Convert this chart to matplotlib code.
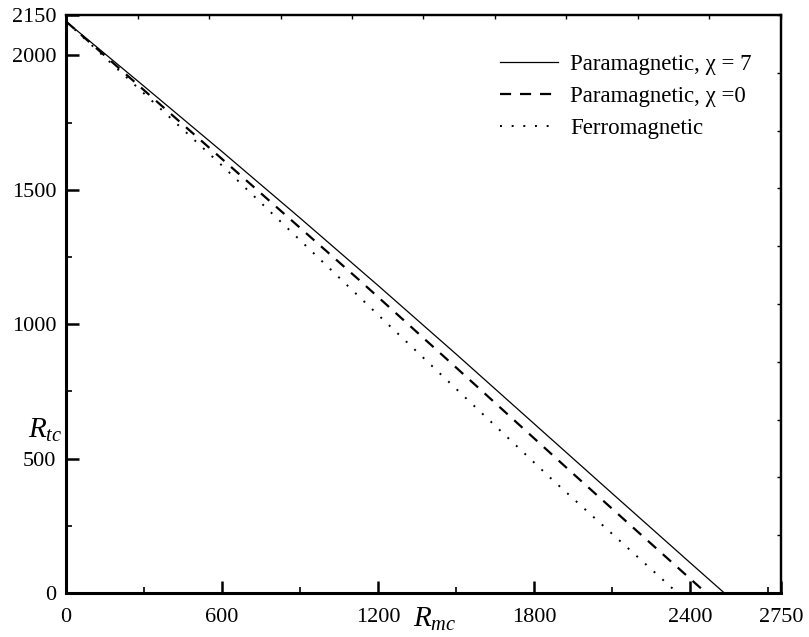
import matplotlib
matplotlib.use("Agg")
import matplotlib.pyplot as plt
from matplotlib.ticker import MultipleLocator, FixedLocator

plt.rcParams['font.family'] = ['Liberation Serif', 'DejaVu Serif']
plt.rcParams['mathtext.fontset'] = 'custom'
plt.rcParams['mathtext.rm'] = 'Liberation Serif'
plt.rcParams['mathtext.it'] = 'Liberation Serif:italic'

# R_mc / R_tc curves
para7_x = [0, 300, 600, 900, 1200, 1500, 1800, 2100, 2400, 2532]
para7_y = [2126, 1885, 1642, 1395, 1144, 889, 630, 371, 113, 0]

para0_x = [0, 590, 1128, 1500, 1949, 2200, 2462]
para0_y = [2126, 1623, 1164, 839, 445, 227, 0]

ferro_x = [0, 600, 1200, 1527, 1872, 2352]
ferro_y = [2126, 1590, 1035, 735, 420, 0]

x_ticks = [0, 600, 1200, 1800, 2400, 2750]
y_ticks = [0, 500, 1000, 1500, 2000, 2150]

W, H = 809, 637
fig = plt.figure(figsize=(W / 100, H / 100), dpi=100)
ax = fig.add_axes([66 / W, 1 - 593 / H, (781 - 66) / W, (593 - 15) / H])

ax.plot(para7_x, para7_y, color='black', lw=0.9, ls='-', label='Paramagnetic, χ = 7')
ax.plot(para0_x, para0_y, color='black', lw=1.6, ls=(0, (5, 4)), label='Paramagnetic, χ =0')
ax.plot(ferro_x, ferro_y, color='black', lw=1.4, ls=(0, (1, 5)), label='Ferromagnetic')

ax.set_xlim(0, 2750)
ax.set_ylim(0, 2150)

ax.xaxis.set_major_locator(FixedLocator(x_ticks))
ax.yaxis.set_major_locator(FixedLocator(y_ticks))
ax.xaxis.set_minor_locator(FixedLocator([300, 900, 1500, 2100, 2700]))
ax.yaxis.set_minor_locator(FixedLocator([250, 750, 1250, 1750]))
ax.tick_params(which='major', direction='in', length=9, width=1.8, labelsize=16, pad=7,
               top=False, right=False)
ax.tick_params(which='minor', direction='in', length=4, width=1.2, top=False, right=False)
ax.tick_params(axis='x', which='major', pad=11)

for side in ['left', 'bottom']:
    ax.spines[side].set_linewidth(2.2)
for side in ['top', 'right']:
    ax.spines[side].set_linewidth(1.6)

top = ax.secondary_xaxis('top')
top.xaxis.set_major_locator(MultipleLocator(275))
top.tick_params(direction='in', length=3, width=1.0, labeltop=False)
top.spines['top'].set_linewidth(1.6)
right = ax.secondary_yaxis('right')
right.yaxis.set_major_locator(MultipleLocator(215))
right.tick_params(direction='in', length=3, width=1.0, labelright=False)
right.spines['right'].set_linewidth(1.6)

leg = ax.legend(loc='upper right', bbox_to_anchor=(0.988, 0.968), frameon=False,
                fontsize=16.5, handlelength=2.5, handletextpad=0.55, labelspacing=0.48)

fig.text(28 / W, 1 - 438 / H, r'$R_{tc}$', fontsize=21, ha='left', va='baseline')
fig.text(413 / W, 1 - 627 / H, r'$R_{mc}$', fontsize=21, ha='left', va='baseline')

fig.savefig('out.png', dpi=100)
